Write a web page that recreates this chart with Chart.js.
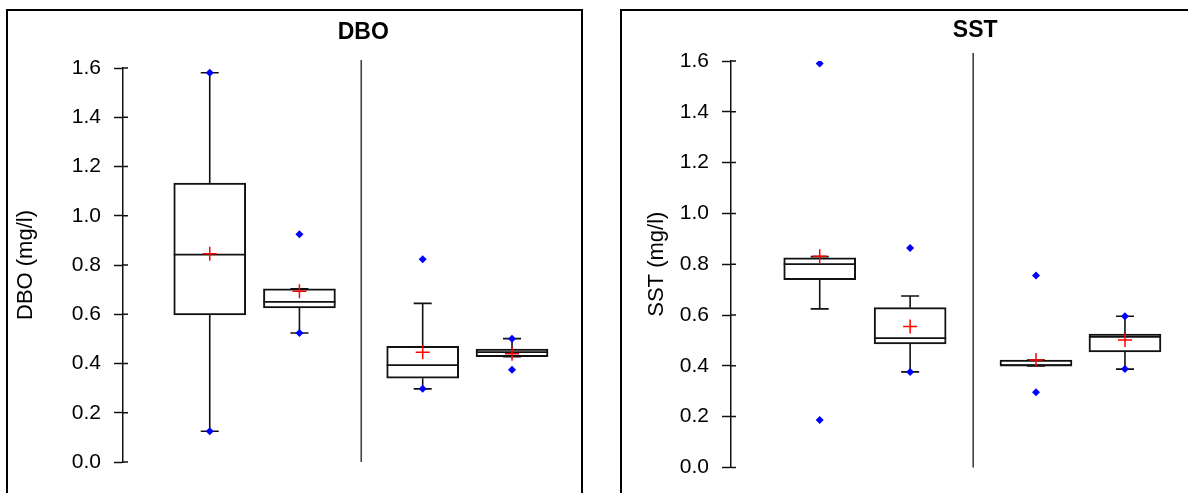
<!DOCTYPE html>
<html>
<head>
<meta charset="utf-8">
<script src="https://cdn.jsdelivr.net/npm/chart.js@4/dist/chart.umd.min.js"></script>
<style>
  body { margin: 0; background: #fff; width: 1188px; height: 493px; overflow: hidden; position: relative; }
  .panel { position: absolute; border: 2px solid #000; box-sizing: border-box; }
  canvas { position: absolute; }
</style>
</head>
<body>
<div class="panel" style="left:6px; top:9px; width:577px; height:500px;"></div>
<div class="panel" style="left:620px; top:9px; width:580px; height:500px;"></div>
<canvas id="dbo" width="572" height="482" style="left:8px; top:11px;"></canvas>
<canvas id="sst" width="565" height="482" style="left:623px; top:11px;"></canvas>
<script>
// valores (4 grupos por panel)
const yTicks = [0, 0.2, 0.4, 0.6, 0.8, 1.0, 1.2, 1.4, 1.6];

const dboQ1 = [0.597, 0.626, 0.340, 0.428];
const dboMediana = [0.842, 0.650, 0.393, 0.446];
const dboQ3 = [1.133, 0.703, 0.470, 0.459];
const dboBigoteInf = [0.125, 0.524, 0.297, 0.428];
const dboBigoteSup = [1.581, 0.703, 0.644, 0.501];
const dboMedia = [0.846, 0.693, 0.446, 0.440];
const dboMin = [0.125, 0.524, 0.297, 0.375];
const dboMax = [1.581, 0.925, 0.823, 0.501];

const sstQ1 = [0.739, 0.486, 0.399, 0.455];
const sstMediana = [0.800, 0.509, 0.403, 0.514];
const sstQ3 = [0.825, 0.629, 0.423, 0.525];
const sstBigoteInf = [0.624, 0.376, 0.399, 0.387];
const sstBigoteSup = [0.830, 0.675, 0.423, 0.595];
const sstMedia = [0.831, 0.555, 0.423, 0.502];
const sstMin = [0.187, 0.376, 0.296, 0.387];
const sstMax = [1.590, 0.864, 0.756, 0.595];

// posicion de cada caja en el eje x (unidades)
const posDBO = [0.967, 1.967, 3.341, 4.337];
const posSST = [0.989, 1.997, 3.40, 4.392];

const FUENTE = "'Liberation Sans', Arial, sans-serif";

const cajasPlugin = {
    id: 'cajas',
    afterDatasetDraw(chart, args, opts) {
        if (args.meta.type !== 'bar') return;
        const ctx = chart.ctx;
        const x = chart.scales.x;
        const y = chart.scales.y;
        ctx.save();
        ctx.strokeStyle = '#111';
        args.meta.data.forEach((bar, i) => {
            const { x: cx, width } = bar.getProps(['x', 'width'], true);
            const hw = width / 2;
            // mediana
            ctx.lineWidth = 1.8;
            ctx.beginPath();
            ctx.moveTo(cx - hw, y.getPixelForValue(opts.mediana[i]));
            ctx.lineTo(cx + hw, y.getPixelForValue(opts.mediana[i]));
            ctx.stroke();
            // bigotes
            ctx.lineWidth = 1.6;
            ctx.beginPath();
            ctx.moveTo(cx, y.getPixelForValue(opts.q3[i]));
            ctx.lineTo(cx, y.getPixelForValue(opts.sup[i]));
            ctx.moveTo(cx, y.getPixelForValue(opts.q1[i]));
            ctx.lineTo(cx, y.getPixelForValue(opts.inf[i]));
            // topes
            ctx.moveTo(cx - 9, y.getPixelForValue(opts.sup[i]));
            ctx.lineTo(cx + 9, y.getPixelForValue(opts.sup[i]));
            ctx.moveTo(cx - 9, y.getPixelForValue(opts.inf[i]));
            ctx.lineTo(cx + 9, y.getPixelForValue(opts.inf[i]));
            ctx.stroke();
        });
        // ticks hacia dentro del eje
        ctx.lineWidth = 1.5;
        ctx.beginPath();
        y.ticks.forEach(t => {
            const py = y.getPixelForValue(t.value);
            ctx.moveTo(y.right, py);
            ctx.lineTo(y.right + 5, py);
        });
        ctx.stroke();
        // linea divisoria
        const dx = x.getPixelForValue(opts.divisor);
        ctx.strokeStyle = '#444';
        ctx.lineWidth = 1.6;
        ctx.beginPath();
        ctx.moveTo(dx, y.top - 8);
        ctx.lineTo(dx, y.bottom);
        ctx.stroke();
        // titulo
        ctx.fillStyle = '#000';
        ctx.font = 'bold 23px ' + FUENTE;
        ctx.textAlign = 'center';
        ctx.textBaseline = 'middle';
        ctx.fillText(opts.titulo, dx + 2, opts.tituloY);
        ctx.restore();
    }
};

function crearPanel(id, nombre, pos, q1, med, q3, inf, sup, media, min, max, cfg) {
    const ctx = document.getElementById(id).getContext('2d');
    const puntos = (vals) => vals.map((v, i) => ({ x: pos[i], y: v }));
    const extremos = puntos(min).concat(puntos(max));

    return new Chart(ctx, {
        type: 'bar',
        data: {
            datasets: [
                {
                    type: 'bar',
                    data: q1.map((v, i) => ({ x: pos[i], y: [v, q3[i]] })),
                    backgroundColor: '#fff',
                    borderColor: '#111',
                    borderWidth: 2,
                    borderSkipped: false,
                    barThickness: 72,
                    order: 2
                },
                {
                    type: 'scatter',
                    data: extremos,
                    pointStyle: 'rectRot',
                    radius: 4,
                    backgroundColor: '#0000ff',
                    borderColor: '#0000ff',
                    borderWidth: 0,
                    order: 1
                },
                {
                    type: 'scatter',
                    data: puntos(media),
                    pointStyle: 'cross',
                    radius: 7,
                    borderColor: '#ff0000',
                    borderWidth: 1.5,
                    order: 0
                }
            ]
        },
        options: {
            responsive: false,
            animation: false,
            devicePixelRatio: 1,
            layout: { padding: cfg.padding },
            plugins: {
                legend: { display: false },
                tooltip: { enabled: false },
                cajas: {
                    q1: q1, q3: q3, mediana: med, inf: inf, sup: sup,
                    divisor: cfg.divisor, titulo: nombre, tituloY: cfg.tituloY
                }
            },
            scales: {
                x: { type: 'linear', min: 0, max: 5, offset: false, display: false },
                y: {
                    min: 0,
                    max: 1.6,
                    afterBuildTicks: s => { s.ticks = yTicks.map(v => ({ value: v })); },
                    afterFit: s => { s.width = cfg.anchoEje; },
                    border: { display: true, color: '#111', width: 1.5 },
                    grid: { drawOnChartArea: false, tickLength: 9, tickColor: '#111', tickWidth: 1.5 },
                    ticks: {
                        padding: 13,
                        color: '#000',
                        font: { family: FUENTE, size: 21 },
                        callback: v => Number(v).toFixed(1)
                    },
                    title: {
                        display: true,
                        text: nombre + ' (mg/l)',
                        color: '#000',
                        font: { family: FUENTE, size: 22 },
                        padding: { top: cfg.tituloEje, bottom: 0 }
                    }
                }
            }
        },
        plugins: [cajasPlugin]
    });
}

crearPanel('dbo', 'DBO', posDBO, dboQ1, dboMediana, dboQ3, dboBigoteInf, dboBigoteSup,
    dboMedia, dboMin, dboMax,
    { padding: { top: 57, bottom: 31, right: 7, left: 0 }, anchoEje: 115, tituloEje: 5, divisor: 2.656, tituloY: 22 });

crearPanel('sst', 'SST', posSST, sstQ1, sstMediana, sstQ3, sstBigoteInf, sstBigoteSup,
    sstMedia, sstMin, sstMax,
    { padding: { top: 50, bottom: 24, right: 7, left: 0 }, anchoEje: 108, tituloEje: 21, divisor: 2.70, tituloY: 20 });
</script>
</body>
</html>
